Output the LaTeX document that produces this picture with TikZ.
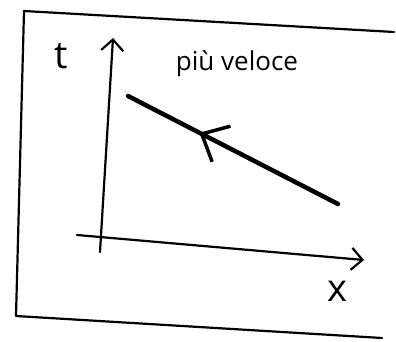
\documentclass[tikz,border=0pt]{standalone}
\usepackage{fontspec}
\setsansfont{Open Sans}
\usetikzlibrary{arrows.meta,positioning,decorations.markings}

\begin{document}
\begin{tikzpicture}[x=1pt, y=-1pt,
    sketch/.style={line width=2.2pt, line cap=round, line join=round},
    axisarrow/.style={sketch, -{Straight Barb[length=11pt, width=22pt, line width=2.2pt]}},
    worldline/.style={line width=4.5pt, line cap=round,
                      postaction={decorate, decoration={markings,
                      mark=at position 0.66 with {\arrow{Straight Barb[length=22pt, width=40pt, line width=3.5pt]}}}}},
    axislabel/.style={font=\sffamily\fontsize{38}{40}\selectfont, inner sep=0pt},
    note/.style={font=\sffamily\fontsize{26}{28}\selectfont, inner sep=0pt}
]
\useasboundingbox (0,0) rectangle (396,342);

%% frame
\coordinate (f1) at (24,11);
\coordinate (f2) at (394,32);
\coordinate (f3) at (16,316);
\coordinate (f4) at (382,338);
\draw[sketch] (f2) -- (f1) -- (f3) -- (f4);

%% axes
\coordinate (tbot) at (100,252);
\coordinate (ttop) at (113,38);
\coordinate (xleft) at (77,235);
\coordinate (xright) at (364,260);
\draw[axisarrow] (tbot) -- (ttop);
\draw[axisarrow] (xleft) -- (xright);

%% labels
\node[axislabel] (tlab) at (61,56) {t};
\node[axislabel] (xlab) at (337,291) {x};
\node[note] (fast) at (237,64) {più veloce};

%% moving body
\coordinate (wstart) at (338,204);
\coordinate (wend) at (128,96);
\draw[worldline] (wstart) -- (wend);

\end{tikzpicture}
\end{document}
